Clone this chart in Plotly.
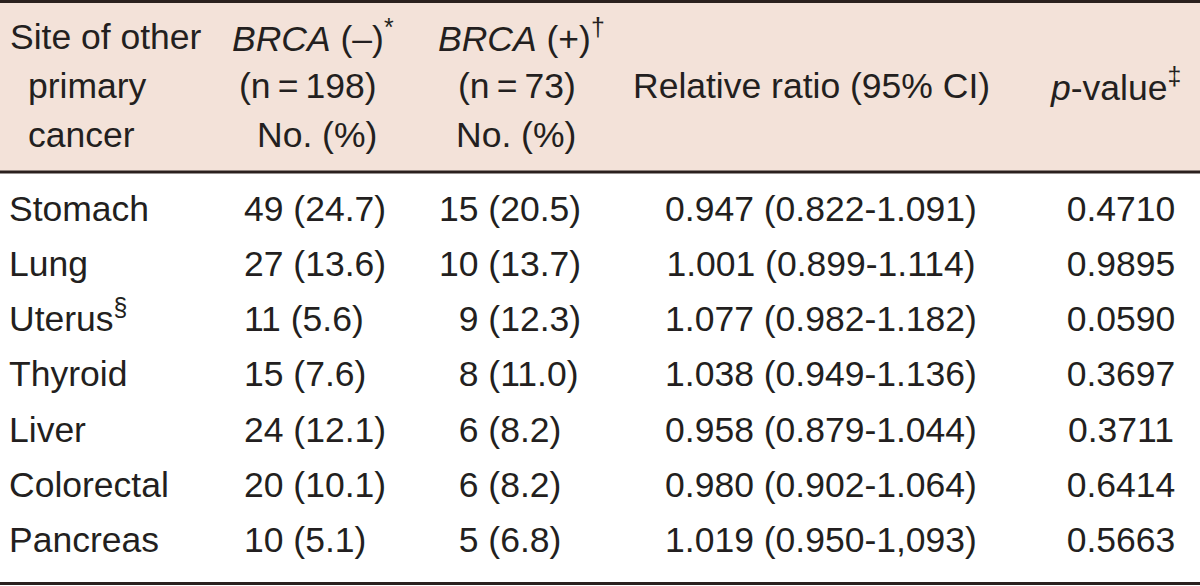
import plotly.graph_objects as go

# ---------------- data ----------------
sites = ["Stomach", "Lung", "Uterus<sup>§</sup>", "Thyroid", "Liver", "Colorectal", "Pancreas"]
neg_n = [49, 27, 11, 15, 24, 20, 10]
neg_pct = [24.7, 13.6, 5.6, 7.6, 12.1, 10.1, 5.1]
pos_n = [15, 10, 9, 8, 6, 6, 5]
pos_pct = [20.5, 13.7, 12.3, 11.0, 8.2, 8.2, 6.8]
ratio = ["0.947", "1.001", "1.077", "1.038", "0.958", "0.980", "1.019"]
ci_low = ["0.822", "0.899", "0.982", "0.949", "0.879", "0.902", "0.950"]
ci_high = ["1.091", "1.114", "1.182", "1.136", "1.044", "1.064", "1,093"]
p_values = [0.4710, 0.9895, 0.0590, 0.3697, 0.3711, 0.6414, 0.5663]

header_site = ["Site of other", "primary", "cancer"]
header_neg = ["<i>BRCA</i> (–)<sup>*</sup>", "(n\u2009=\u2009198)", "No. (%)"]
header_pos = ["<i>BRCA</i> (+)<sup>†</sup>", "(n\u2009=\u200973)", "No. (%)"]
header_ratio = "Relative ratio (95% CI)"
header_p = "<i>p</i>-value<sup>‡</sup>"

# ---------------- style ----------------
W, H = 1200, 586
FONT = "Liberation Sans, Arial, sans-serif"
FS = 35.5
TXT = "#231f20"
HEAD_FILL = "#f3e2d9"
LINE = "#2a201e"
HEAD_BOTTOM = 172
ROW0, ROWH = 212, 55.2
HEAD_LINES = [37, 86, 135]

def fmt_count(n, pct):
    s = f"{n} ({pct:.1f})"
    return ("\u2007" + s) if n < 10 else s

col_neg = [fmt_count(n, p) for n, p in zip(neg_n, neg_pct)]
col_pos = [fmt_count(n, p) for n, p in zip(pos_n, pos_pct)]
col_ratio = [f"{r} ({l}-{h})" for r, l, h in zip(ratio, ci_low, ci_high)]
col_p = [f"{p:.4f}" for p in p_values]

fig = go.Figure()

def add_col(texts, x, pos):
    fig.add_trace(go.Scatter(
        x=[x] * len(sites), y=list(range(len(sites))), mode="text", text=texts,
        textposition=pos, textfont=dict(family=FONT, size=FS, color=TXT),
        hoverinfo="skip", showlegend=False, cliponaxis=False))

add_col(sites, 9, "middle right")
add_col(col_neg, 244, "middle right")
add_col(col_pos, 439, "middle right")
add_col(col_ratio, 821, "middle center")
add_col(col_p, 1121, "middle center")

def py(p):
    return 1 - p / H

shapes = [
    dict(type="rect", xref="paper", yref="paper", x0=0, x1=1, y0=py(HEAD_BOTTOM), y1=1,
         fillcolor=HEAD_FILL, line=dict(width=0), layer="below"),
    dict(type="line", xref="paper", yref="paper", x0=0, x1=1, y0=py(1.5), y1=py(1.5),
         line=dict(color=LINE, width=3)),
    dict(type="line", xref="paper", yref="paper", x0=0, x1=1, y0=py(HEAD_BOTTOM), y1=py(HEAD_BOTTOM),
         line=dict(color=LINE, width=3)),
    dict(type="line", xref="paper", yref="paper", x0=0, x1=1, y0=py(H - 2.5), y1=py(H - 2.5),
         line=dict(color=LINE, width=3)),
]

annotations = []
def ann(text, x, ypix, anchor):
    annotations.append(dict(text=text, x=x / W, y=py(ypix), xref="paper", yref="paper",
                            xanchor=anchor, yanchor="middle", showarrow=False,
                            font=dict(family=FONT, size=FS, color=TXT)))

for i, t in enumerate(header_site):
    ann(t, 8 if i == 0 else 26, HEAD_LINES[i], "left")
for i, t in enumerate(header_neg):
    if i == 0:
        ann(t, 230, HEAD_LINES[i], "left")
    else:
        ann(t, 379, HEAD_LINES[i], "right")
for i, t in enumerate(header_pos):
    if i == 0:
        ann(t, 436, HEAD_LINES[i], "left")
    else:
        ann(t, 578, HEAD_LINES[i], "right")
ann(header_ratio, 811, HEAD_LINES[1], "center")
ann(header_p, 1115, HEAD_LINES[1], "center")

fig.update_layout(
    width=W, height=H, margin=dict(l=0, r=0, t=0, b=0),
    paper_bgcolor="white", plot_bgcolor="rgba(0,0,0,0)",
    xaxis=dict(range=[0, W], visible=False, fixedrange=True),
    yaxis=dict(range=[(H - ROW0) / ROWH, -ROW0 / ROWH], visible=False, fixedrange=True),
    shapes=shapes, annotations=annotations,
)

fig.write_html("out.html", config={"displayModeBar": False},
               post_script="document.body.style.margin='0';document.body.style.overflow='hidden';")
